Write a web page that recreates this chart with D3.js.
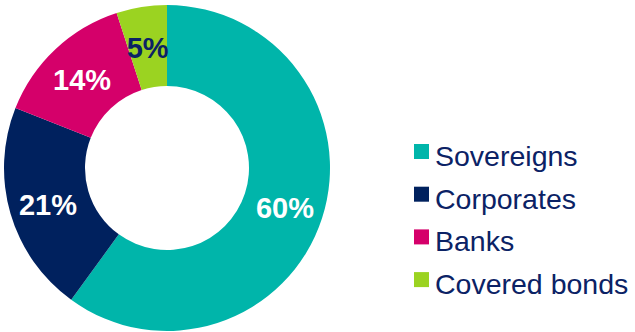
<!DOCTYPE html>
<html><head><meta charset="utf-8">
<script src="https://cdn.jsdelivr.net/npm/d3@7"></script>
<style>html,body{margin:0;padding:0;background:#fff;}svg{display:block;}</style>
</head><body>
<script>
const categories = ["Sovereigns", "Corporates", "Banks", "Covered bonds"];
const values = [60, 21, 14, 5];
const labels = ["60%", "21%", "14%", "5%"];
const colors = ["#00B5AA", "#00215E", "#D5006A", "#9BD321"];
const labelColors = ["#ffffff", "#ffffff", "#ffffff", "#0B2265"];

const W = 635, H = 332;
const cx = 167, cy = 168, outerR = 163, innerR = 82;

const svg = d3.select("body").append("svg").attr("width", W).attr("height", H);
const g = svg.append("g").attr("transform", `translate(${cx},${cy})`);

const pie = d3.pie().sort(null).value(d => d)(values);
const arc = d3.arc().innerRadius(innerR).outerRadius(outerR);

g.selectAll("path.slice").data(pie).join("path")
  .attr("class", "slice")
  .attr("d", arc)
  .attr("fill", (d, i) => colors[i]);

const lr = 124;
g.selectAll("text.lbl").data(pie).join("text")
  .attr("class", "lbl")
  .attr("x", d => { const a = (d.startAngle + d.endAngle) / 2; return Math.sin(a) * lr; })
  .attr("y", d => { const a = (d.startAngle + d.endAngle) / 2; return -Math.cos(a) * lr; })
  .attr("dy", "0.42em")
  .attr("text-anchor", "middle")
  .attr("font-family", "Liberation Sans, Arial, sans-serif")
  .attr("font-weight", "bold")
  .attr("font-size", 29)
  .attr("fill", (d, i) => labelColors[i])
  .text((d, i) => labels[i]);

const legend = svg.append("g").attr("transform", "translate(414,144)");
const rowH = 42.7;
const item = legend.selectAll("g").data(categories).join("g")
  .attr("transform", (d, i) => `translate(0,${i * rowH})`);
item.append("rect").attr("width", 15).attr("height", 15).attr("fill", (d, i) => colors[i]);
item.append("text")
  .attr("x", 21).attr("y", 22)
  .attr("font-family", "Liberation Sans, Arial, sans-serif")
  .attr("font-size", 28.5)
  .attr("fill", "#0B2265")
  .text(d => d);
</script>
</body></html>
